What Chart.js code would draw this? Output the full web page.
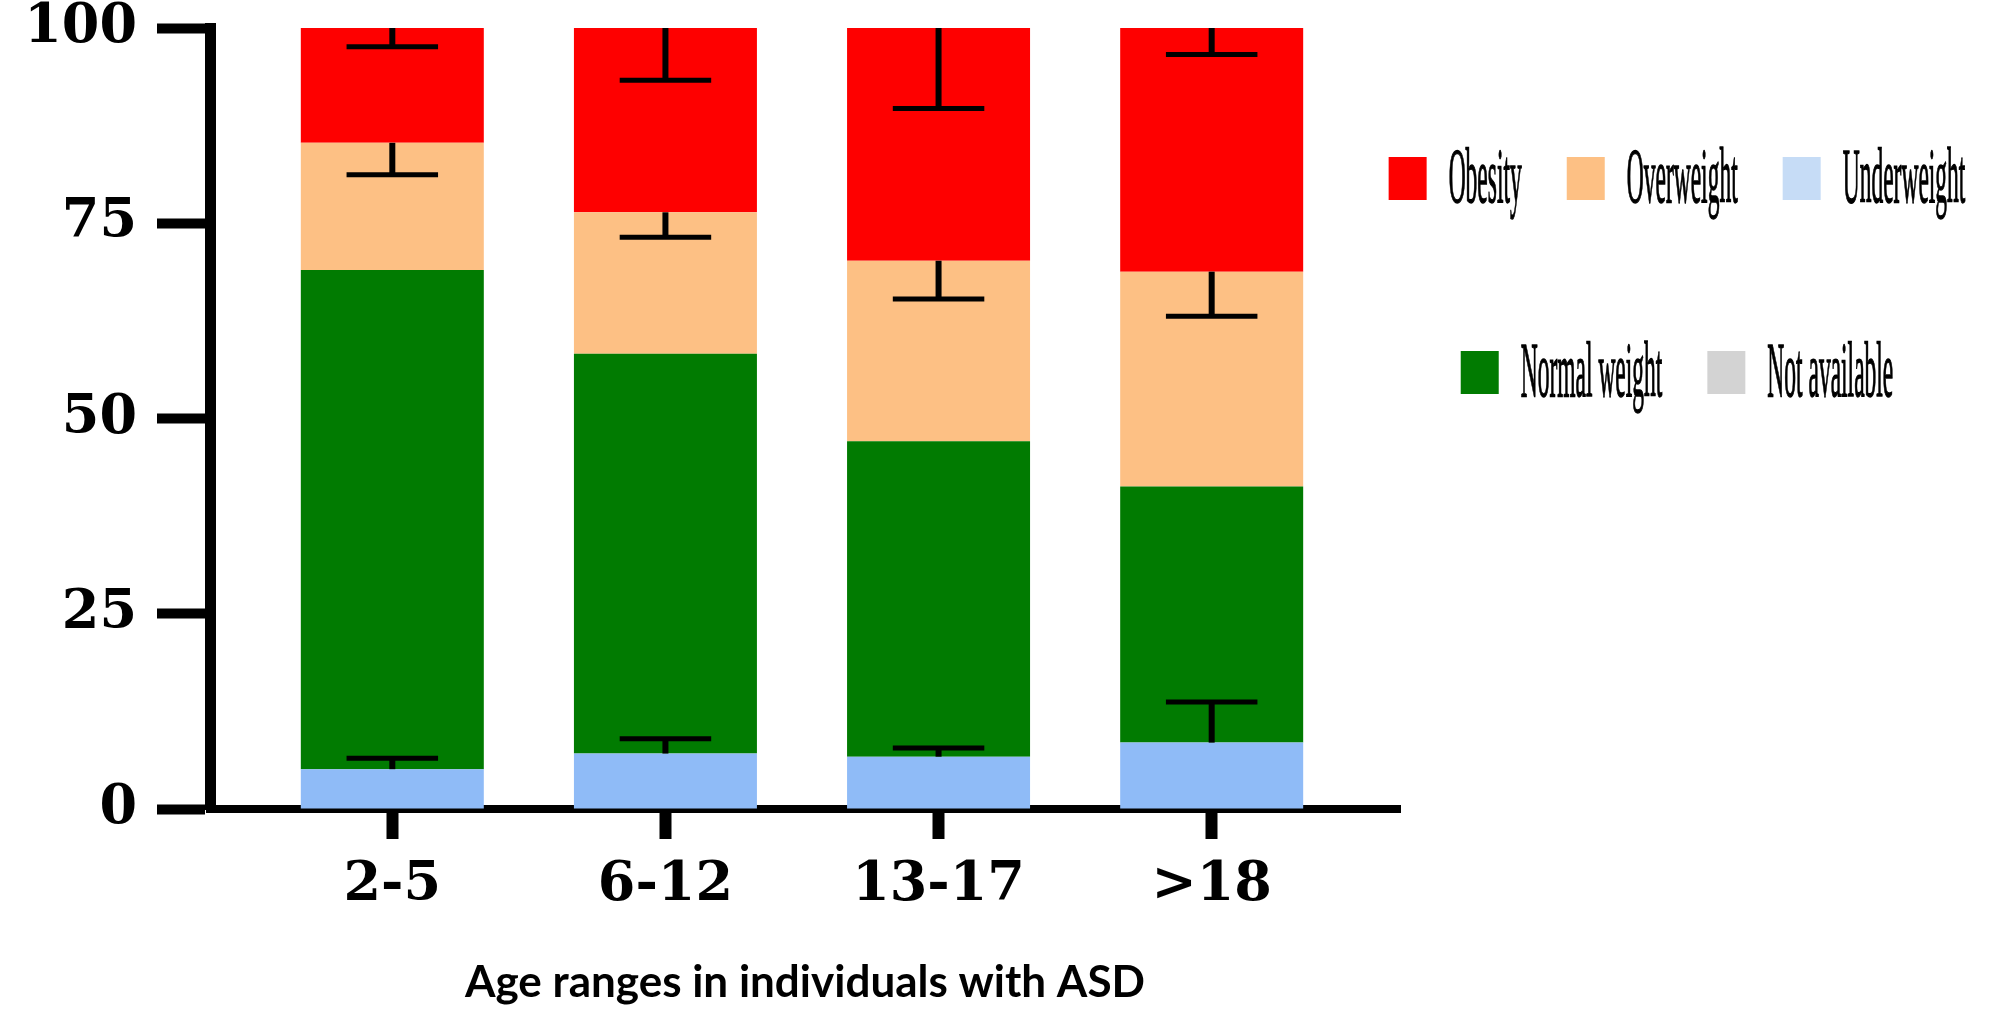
<!DOCTYPE html>
<html>
<head>
<meta charset="utf-8">
<script src="https://cdn.jsdelivr.net/npm/chart.js@4.4.1/dist/chart.umd.min.js"></script>
<style>
html,body{margin:0;padding:0;background:#fff;}
#wrap{width:1993px;height:1009px;position:relative;}
canvas{display:block;}
</style>
</head>
<body>
<div id="wrap"><canvas id="c" width="1993" height="1009"></canvas></div>
<script>
// ---- data (% of individuals) ----
const categories = ['2-5', '6-12', '13-17', '>18'];
const underweight  = [5.1, 7.1, 6.7, 8.5];
const normalWeight = [63.9, 51.2, 40.4, 32.8];
const overweight   = [16.3, 18.1, 23.1, 27.5];
const obesity      = [14.7, 23.6, 29.8, 31.2];
const notAvailable = [0, 0, 0, 0];
const underweightErr = [1.4, 1.9, 1.1, 5.2];   // drawn upward
const overweightErr  = [4.1, 3.2, 4.9, 5.7];   // drawn downward
const obesityErr     = [2.4, 6.7, 10.3, 3.4];  // drawn downward
const yTicks = [0, 25, 50, 75, 100];
const legendOrder = ['Obesity', 'Overweight', 'Underweight', 'Normal weight', 'Not available'];
const xTitle = 'Age ranges in individuals with ASD';

const toPoints = arr => arr.map((v, i) => ({ x: i + 1, y: v }));

const errorBars = {
  id: 'errorBars',
  afterDatasetsDraw(chart, args, opts) {
    const ctx = chart.ctx;
    const yScale = chart.scales.y;
    const dsets = chart.data.datasets;
    dsets.forEach((ds, di) => {
      if (!ds.errors) return;
      const meta = chart.getDatasetMeta(di);
      meta.data.forEach((bar, i) => {
        let top = 0;
        for (let k = 0; k <= di; k++) top += dsets[k].data[i].y;
        const end = top + (ds.errorDir === 'up' ? 1 : -1) * ds.errors[i];
        const y0 = yScale.getPixelForValue(top);
        const y1 = yScale.getPixelForValue(end);
        const half = bar.width * opts.capRatio / 2;
        ctx.save();
        ctx.strokeStyle = '#000';
        ctx.lineCap = 'butt';
        ctx.lineWidth = opts.stemWidth;
        ctx.beginPath();
        ctx.moveTo(bar.x, y0);
        ctx.lineTo(bar.x, y1);
        ctx.stroke();
        ctx.lineWidth = opts.capWidth;
        ctx.beginPath();
        ctx.moveTo(bar.x - half, y1);
        ctx.lineTo(bar.x + half, y1);
        ctx.stroke();
        ctx.restore();
      });
    });
  }
};

const customLegend = {
  id: 'customLegend',
  afterDraw(chart, args, o) {
    const ctx = chart.ctx;
    const byLabel = {};
    chart.data.datasets.forEach(d => { byLabel[d.label] = d; });
    ctx.save();
    ctx.font = o.fontSize + 'px ' + o.fontFamily;
    let idx = 0;
    o.rows.forEach((count, r) => {
      const items = legendOrder.slice(idx, idx + count);
      idx += count;
      const widths = items.map(l => o.boxW + o.boxGap + ctx.measureText(l).width);
      const total = widths.reduce((a, b) => a + b, 0) + o.itemGap * (items.length - 1);
      let x = o.centerX - total / 2;
      const boxTop = o.rowTops[r];
      items.forEach((l, k) => {
        const ds = byLabel[l];
        ctx.fillStyle = ds.legendColor || ds.backgroundColor;
        ctx.fillRect(x, boxTop, o.boxW, o.boxH);
        ctx.save();
        ctx.fillStyle = '#000';
        ctx.strokeStyle = '#000';
        ctx.lineWidth = 0.4;
        ctx.textAlign = 'left';
        ctx.textBaseline = 'alphabetic';
        ctx.scale(1, o.stretch);
        const tx = x + o.boxW + o.boxGap, ty = (boxTop + o.boxH + o.baselineOffset) / o.stretch;
        ctx.fillText(l, tx, ty);
        ctx.strokeText(l, tx, ty);
        ctx.restore();
        x += widths[k] + o.itemGap;
      });
    });
    ctx.restore();
  }
};

const tickFont = { family: '"DejaVu Serif"', weight: 'bold', size: 54, lineHeight: 1 };

new Chart(document.getElementById('c'), {
  type: 'bar',
  data: {
    datasets: [
      { label: 'Underweight', data: toPoints(underweight), backgroundColor: '#8fbbf7', legendColor: '#c6dcf6', errors: underweightErr, errorDir: 'up' },
      { label: 'Normal weight', data: toPoints(normalWeight), backgroundColor: '#017b01' },
      { label: 'Overweight', data: toPoints(overweight), backgroundColor: '#fdc084', errors: overweightErr, errorDir: 'down' },
      { label: 'Obesity', data: toPoints(obesity), backgroundColor: '#fe0000', errors: obesityErr, errorDir: 'down' },
      { label: 'Not available', data: toPoints(notAvailable), backgroundColor: '#d3d3d3' }
    ]
  },
  options: {
    responsive: false,
    animation: false,
    devicePixelRatio: 1,
    categoryPercentage: 1,
    barPercentage: 0.67,
    borderWidth: 0,
    layout: { padding: { top: 28, right: 593, bottom: 0, left: 0 } },
    plugins: {
      legend: { display: false },
      tooltip: { enabled: false },
      errorBars: { capRatio: 0.5, stemWidth: 6, capWidth: 5 },
      customLegend: {
        rows: [3, 2], centerX: 1677, rowTops: [157, 351],
        boxW: 38, boxH: 43, boxGap: 22, itemGap: 45,
        fontSize: 23.5, fontFamily: '"Liberation Serif"', stretch: 3.3, baselineOffset: 2
      }
    },
    scales: {
      x: {
        type: 'linear',
        stacked: true,
        min: 0.3325,
        max: 4.6895,
        offset: false,
        afterBuildTicks: s => { s.ticks = categories.map((_, i) => ({ value: i + 1 })); },
        afterFit: s => { s.height = 200; s.paddingLeft = 0; s.paddingRight = 0; },
        grid: { display: true, offset: false, drawOnChartArea: false, drawTicks: true, tickLength: 30, tickWidth: 12, tickColor: '#000' },
        border: { display: true, width: 8, color: '#000' },
        ticks: { color: '#000', font: tickFont, padding: 20, maxRotation: 0, autoSkip: false,
                 callback: v => categories[v - 1] },
        title: { display: true, text: xTitle, color: '#000',
                 font: { family: 'Lato', weight: 'bold', size: 44 }, padding: { top: 0, bottom: 0 } }
      },
      y: {
        stacked: true,
        min: 0,
        max: 100,
        afterBuildTicks: s => { s.ticks = yTicks.map(v => ({ value: v })); },
        afterFit: s => { s.width = 210; s.paddingTop = 0; s.paddingBottom = 0; },
        grid: { display: true, drawOnChartArea: false, drawTicks: true, tickLength: 53, tickWidth: 10, tickColor: '#000' },
        border: { display: true, width: 11, color: '#000' },
        ticks: { color: '#000', font: tickFont, padding: 20 }
      }
    }
  },
  plugins: [errorBars, customLegend]
});
</script>
</body>
</html>
